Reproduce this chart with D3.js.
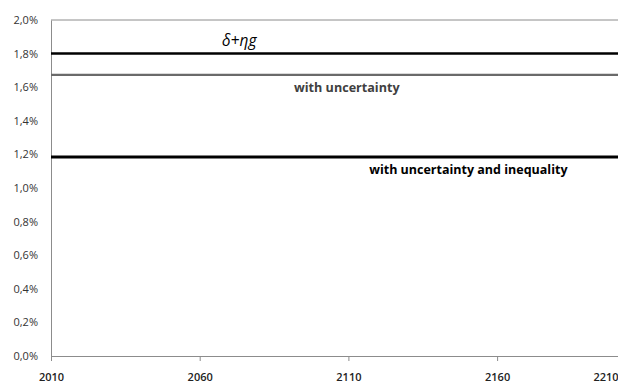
<!DOCTYPE html>
<html><head><meta charset="utf-8">
<script src="https://cdn.jsdelivr.net/npm/d3@7"></script>
<style>body{margin:0;background:#fff}svg{display:block}</style>
</head><body>
<svg id="c" width="618" height="383"></svg>
<script>
const years = [2010, 2060, 2110, 2160, 2210];
const seriesDeltaEtaG = [1.8, 1.8, 1.8, 1.8, 1.8];
const seriesUncertainty = [1.673, 1.673, 1.673, 1.673, 1.673];
const seriesUncInequality = [1.185, 1.185, 1.185, 1.185, 1.185];
const yTicks = [0, 0.2, 0.4, 0.6, 0.8, 1.0, 1.2, 1.4, 1.6, 1.8, 2.0];
const xTicks = [2010, 2060, 2110, 2160, 2210];
const labels = [
  {text: "\u03B4+\u03B7g", year: 2067.5, value: 1.845, style: "italic", weight: "normal", size: 15.5, color: "#000"},
  {text: "with uncertainty", year: 2091.7, value: 1.571, style: "normal", weight: "bold", size: 12.6, color: "#404040"},
  {text: "with uncertainty and inequality", year: 2117, value: 1.083, style: "normal", weight: "bold", size: 12.5, color: "#000"}
];

const svg = d3.select("#c");
const x = d3.scaleLinear().domain([2010, 2210]).range([51, 645.8]);
const y = d3.scaleLinear().domain([0, 2.0]).range([356, 20]);
const fmt = v => d3.format(".1f")(v).replace(".", ",") + "%";
const font = "'Open Sans', 'Noto Sans', sans-serif";

svg.append("line").attr("x1", x(2010)).attr("x2", 618).attr("y1", y(2.0)).attr("y2", y(2.0))
  .attr("stroke", "#8c8c8c").attr("stroke-width", 1);

const ya = svg.append("g").attr("transform", `translate(${x(2010)},0)`)
  .call(d3.axisLeft(y).tickValues(yTicks).tickFormat(fmt).tickSize(0).tickPadding(13));
ya.select(".domain").attr("stroke", "#8c8c8c");
ya.selectAll("text").attr("font-family", font).attr("font-size", 11).attr("fill", "#333");

const xa = svg.append("g").attr("transform", `translate(0,${y(0)})`)
  .call(d3.axisBottom(x).tickValues(xTicks).tickFormat(d3.format("d")).tickSizeInner(5).tickSizeOuter(0).tickPadding(12));
xa.select(".domain").attr("stroke", "#8c8c8c");
xa.selectAll("line").attr("stroke", "#8c8c8c");
xa.selectAll("text").attr("font-family", font).attr("font-size", 11).attr("font-weight", "600").attr("fill", "#222");
xa.selectAll(".tick").filter(d => d === 2210)
  .attr("transform", `translate(${Math.min(x(2210), 606)},0)`)
  .select("line").remove();

const line = d3.line().x((d, i) => x(years[i])).y(d => y(d));
svg.append("path").datum(seriesDeltaEtaG).attr("d", line).attr("fill", "none").attr("stroke", "#000").attr("stroke-width", 2.5);
svg.append("path").datum(seriesUncertainty).attr("d", line).attr("fill", "none").attr("stroke", "#6a6a6a").attr("stroke-width", 2.2);
svg.append("path").datum(seriesUncInequality).attr("d", line).attr("fill", "none").attr("stroke", "#000").attr("stroke-width", 3);

svg.selectAll("text.lab").data(labels).enter().append("text").attr("class", "lab")
  .attr("x", d => x(d.year)).attr("y", d => y(d.value))
  .attr("font-family", font).attr("font-style", d => d.style).attr("font-weight", d => d.weight)
  .attr("font-size", d => d.size).attr("fill", d => d.color).text(d => d.text);
</script>
</body></html>
